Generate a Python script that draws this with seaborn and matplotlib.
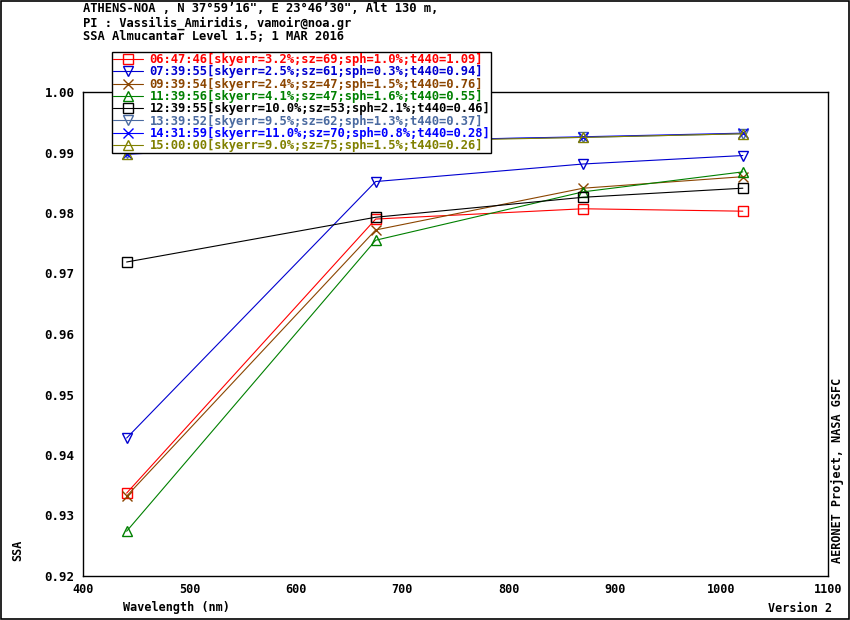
import pandas as pd
import matplotlib
matplotlib.use('Agg')
import matplotlib.pyplot as plt
import seaborn as sns
from matplotlib.lines import Line2D
from matplotlib.patches import Rectangle

# Données
wavelengths = [441, 675, 870, 1020]
labels = [
    '06:47:46[skyerr=3.2%;sz=69;sph=1.0%;t440=1.09]',
    '07:39:55[skyerr=2.5%;sz=61;sph=0.3%;t440=0.94]',
    '09:39:54[skyerr=2.4%;sz=47;sph=1.5%;t440=0.76]',
    '11:39:56[skyerr=4.1%;sz=47;sph=1.6%;t440=0.55]',
    '12:39:55[skyerr=10.0%;sz=53;sph=2.1%;t440=0.46]',
    '13:39:52[skyerr=9.5%;sz=62;sph=1.3%;t440=0.37]',
    '14:31:59[skyerr=11.0%;sz=70;sph=0.8%;t440=0.28]',
    '15:00:00[skyerr=9.0%;sz=75;sph=1.5%;t440=0.26]',
]
ssa_0647 = [0.9337, 0.9790, 0.9807, 0.9803]
ssa_0739 = [0.9428, 0.9852, 0.9881, 0.9895]
ssa_0939 = [0.9332, 0.9772, 0.9841, 0.9860]
ssa_1139 = [0.9274, 0.9755, 0.9835, 0.9868]
ssa_1239 = [0.9719, 0.9793, 0.9826, 0.9841]
ssa_1339 = [0.9899, 0.9920, 0.9925, 0.9931]
ssa_1431 = [0.9897, 0.9919, 0.9926, 0.9932]
ssa_1500 = [0.9898, 0.9918, 0.9925, 0.9931]
series = [ssa_0647, ssa_0739, ssa_0939, ssa_1139, ssa_1239, ssa_1339, ssa_1431, ssa_1500]

colors = ['#FF0000', '#0000D0', '#8B4500', '#008000', '#000000', '#4A6AA0', '#0000FF', '#808000']
markers = ['s', 'v', 'x', '^', 's', 'v', 'x', '^']

rows = []
for lab, vals in zip(labels, series):
    for wl, v in zip(wavelengths, vals):
        rows.append({'label': lab, 'wl': wl, 'ssa': v})
df = pd.DataFrame(rows)

sns.set_style('white')
plt.rcParams['font.family'] = ['DejaVu Sans Mono', 'DejaVu Sans']
plt.rcParams['font.weight'] = 'bold'
plt.rcParams['text.color'] = 'black'
plt.rcParams['xtick.color'] = 'black'
plt.rcParams['ytick.color'] = 'black'

fig = plt.figure(figsize=(8.5, 6.2), dpi=100)
ax = fig.add_axes([83 / 850, 44 / 620, 745 / 850, 484 / 620])

handles = []
for lab, col, mk in zip(labels, colors, markers):
    sub = df[df['label'] == lab]
    sns.lineplot(data=sub, x='wl', y='ssa', ax=ax, color=col, marker=mk,
                 markersize=7, markerfacecolor='none', markeredgecolor=col,
                 markeredgewidth=1.0, linewidth=0.8, legend=False)
    handles.append(Line2D([0], [0], color=col, marker=mk, markersize=7,
                          markerfacecolor='none', markeredgecolor=col,
                          markeredgewidth=1.0, linewidth=0.8))

ax.set_xlim(400, 1100)
ax.set_ylim(0.92, 1.00)
ax.set_xticks(range(400, 1101, 100))
ax.set_yticks([0.92, 0.93, 0.94, 0.95, 0.96, 0.97, 0.98, 0.99, 1.00])
ax.set_yticklabels(['%.2f' % t for t in ax.get_yticks()])
ax.tick_params(axis='x', direction='in', length=9, width=1, pad=5, labelsize=8.5)
ax.tick_params(axis='y', direction='in', length=5, width=1, pad=6, labelsize=9)
for sp in ax.spines.values():
    sp.set_visible(True)
    sp.set_color('black')
    sp.set_linewidth(1)
ax.set_xlabel('')
ax.set_ylabel('')

leg = ax.legend(handles, labels, loc='upper left',
                bbox_to_anchor=(112 / 850, 1 - 52 / 620), bbox_transform=fig.transFigure,
                fontsize=8.7, labelcolor='linecolor', frameon=True, fancybox=False,
                edgecolor='black', framealpha=1, handlelength=2.5, handletextpad=0.5,
                labelspacing=-0.06, borderpad=0.1, borderaxespad=0, numpoints=1)
leg.get_frame().set_linewidth(1)

# Textes
fig.text(83 / 850, 1 - 9 / 620, 'ATHENS-NOA , N 37°59’16", E 23°46’30", Alt 130 m,',
         fontsize=8.7, va='center', ha='left')
fig.text(83 / 850, 1 - 23 / 620, 'PI : Vassilis_Amiridis, vamoir@noa.gr',
         fontsize=8.7, va='center', ha='left')
fig.text(83 / 850, 1 - 36 / 620, 'SSA Almucantar Level 1.5; 1 MAR 2016',
         fontsize=8.7, va='center', ha='left')
fig.text(123 / 850, 1 - 608 / 620, 'Wavelength (nm)', fontsize=8.5, va='center', ha='left')
fig.text(832 / 850, 1 - 608 / 620, 'Version 2', fontsize=8.5, va='center', ha='right')
fig.text(18 / 850, 1 - 550 / 620, 'SSA', fontsize=8.5, rotation=90, va='center', ha='center')
fig.text(837 / 850, 1 - 470 / 620, 'AERONET Project, NASA GSFC', fontsize=8.5,
         rotation=90, va='center', ha='center')

# Cadre autour de la figure
fig.patches.append(Rectangle((0.5 / 850, 1 / 620), 848.5 / 850, 618 / 620, fill=False,
                             edgecolor='black', linewidth=1.2, transform=fig.transFigure))

fig.savefig('out.png', dpi=100)
